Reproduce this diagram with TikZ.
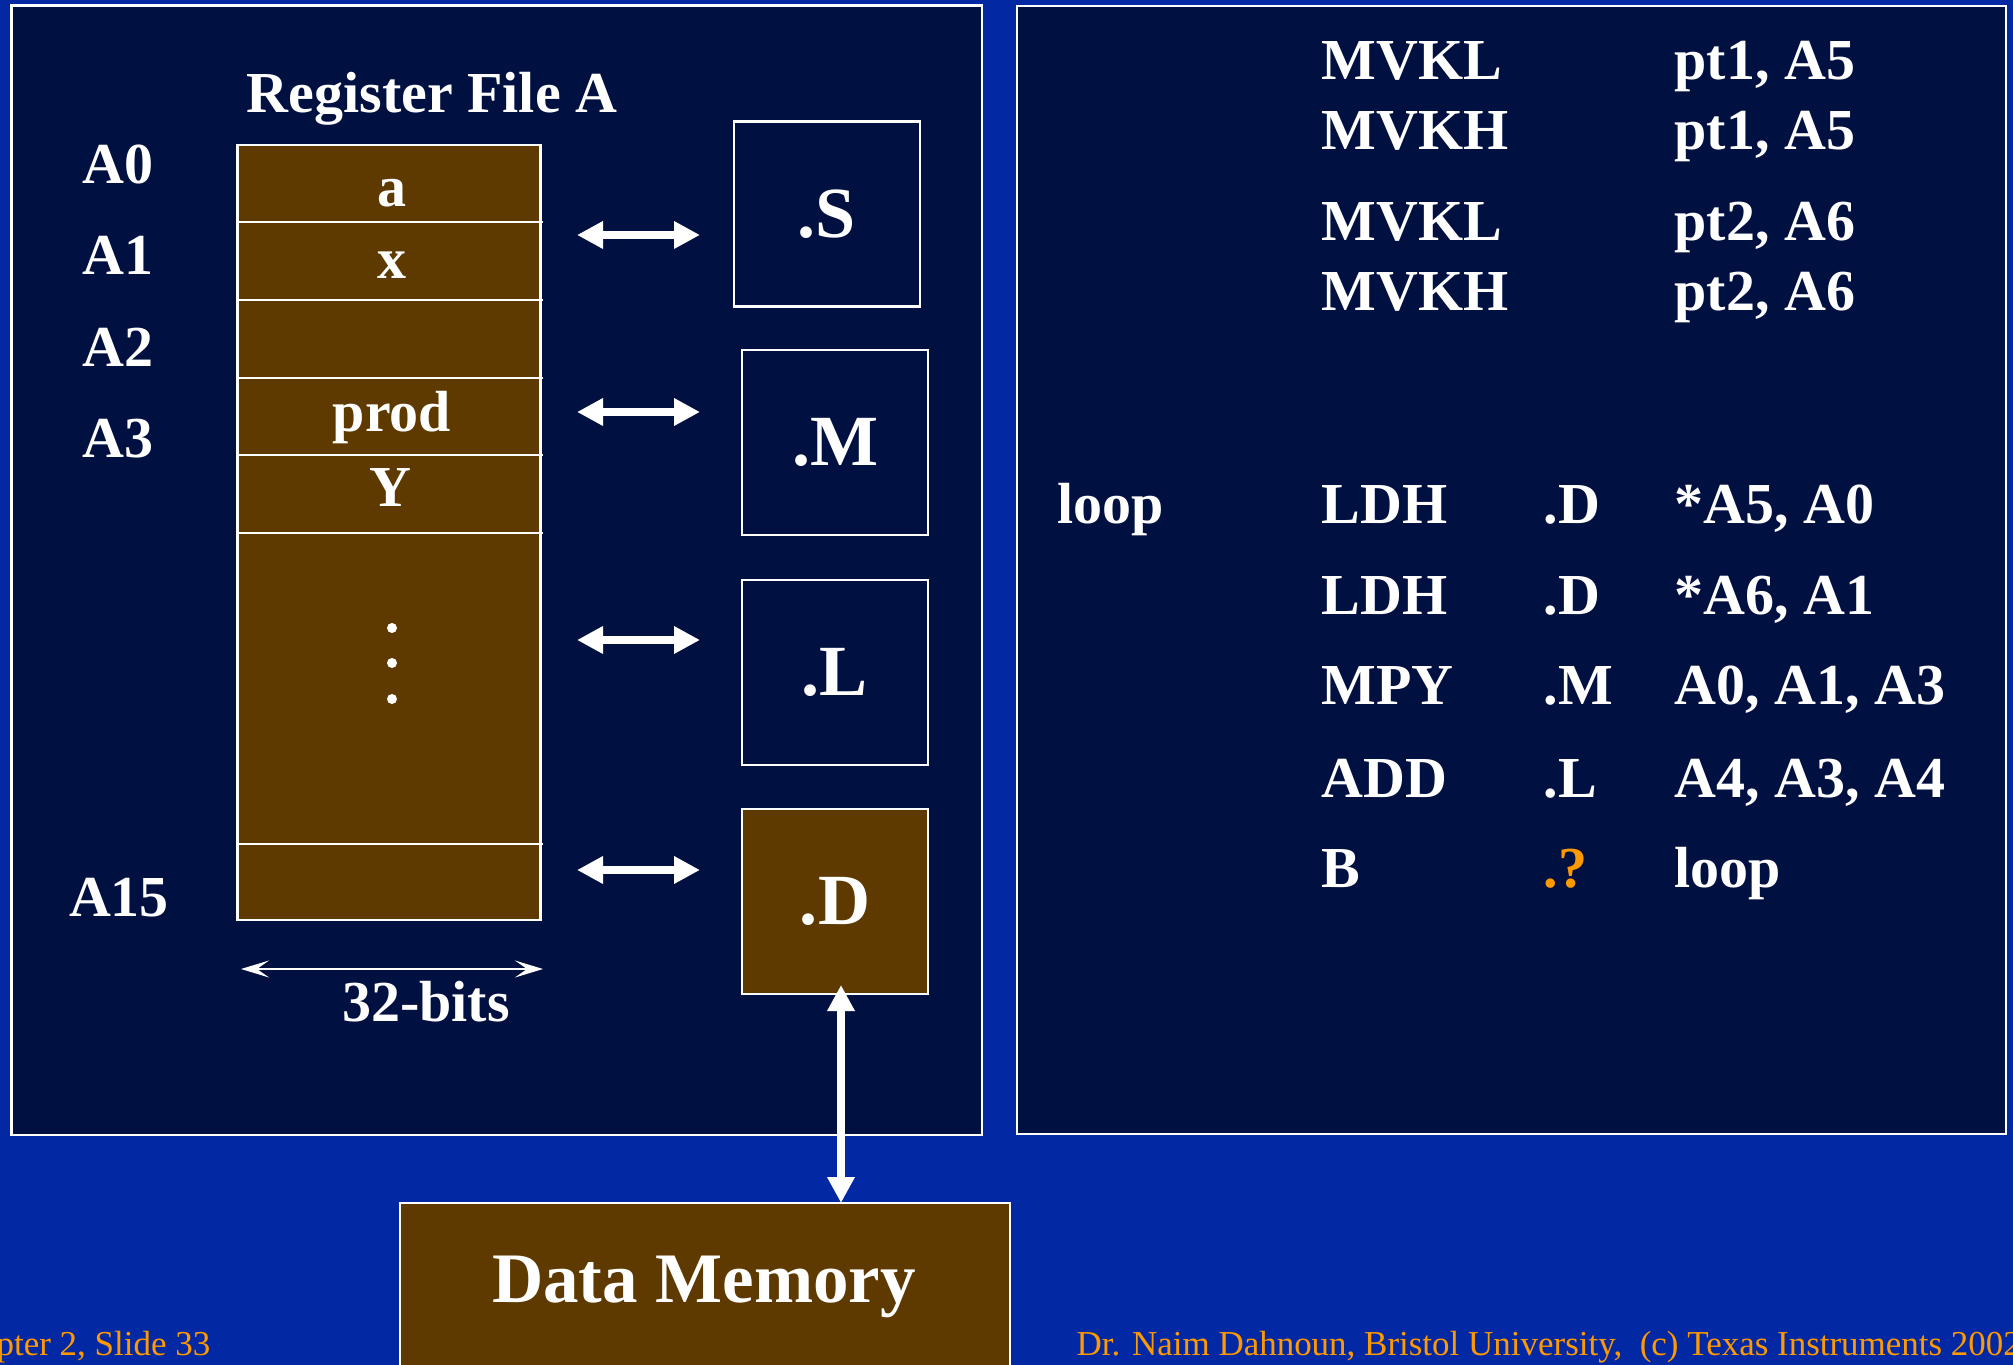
\documentclass[tikz,border=0pt]{standalone}
\usepackage{fontspec}
\setmainfont{Liberation Serif}
\usetikzlibrary{arrows.meta}
\definecolor{bgblue}{RGB}{3,40,163}
\definecolor{navy}{RGB}{0,16,64}
\definecolor{brownfill}{RGB}{94,58,0}
\definecolor{orangetxt}{RGB}{255,153,0}
\newcommand\txtmain{\fontsize{16.5}{18}\selectfont\bfseries}
\newcommand\txtcode{\fontsize{16.5}{19}\selectfont\bfseries}
\newcommand\txtbig{\fontsize{20.5}{23}\selectfont\bfseries}
\newcommand\txtdm{\fontsize{20.2}{23}\selectfont\bfseries}
\newcommand\txtfoot{\fontsize{9.95}{11}\selectfont}
\begin{document}
\begin{tikzpicture}[x=0.1mm,y=-0.1mm,
  panel/.style={draw=white,line width=0.6pt,fill=navy,inner sep=0pt},
  unitbox/.style={draw=white,line width=0.7pt,inner sep=0pt,minimum width=18.6mm,minimum height=18.5mm,text=white,font=\txtbig},
  lbl/.style={text=white,font=\txtmain,inner sep=0pt,anchor=base},
  code/.style={text=white,font=\txtcode,inner sep=0pt,anchor=base west},
  foot/.style={text=orangetxt,font=\txtfoot,inner sep=0pt},
  bigarrow/.style={draw=white,line width=0.8mm,{Triangle[length=2.6mm,width=2.6mm]}-{Triangle[length=2.6mm,width=2.6mm]}},
  thinarrow/.style={draw=white,line width=0.6pt,{Stealth[length=2.8mm,width=1.7mm,inset=1.2mm]}-{Stealth[length=2.8mm,width=1.7mm,inset=1.2mm]}},
  rowline/.style={draw=white,line width=0.7pt}
]
\fill[bgblue] (0,0) rectangle (2013,1365);
\useasboundingbox (0,0) rectangle (2013,1365);

% panels
\node[panel,minimum width=97.05mm,minimum height=112.95mm] (lp) at (496.75,570.25) {};
\node[panel,minimum width=98.9mm,minimum height=112.8mm] (rp) at (1511.5,570) {};

% register file
\node[lbl] (title) at (432,113) {Register File A};
\node[draw=white,line width=0.7pt,fill=brownfill,minimum width=30.3mm,minimum height=77.5mm,inner sep=0pt] (rf) at (389,532.5) {};
\foreach \y in {222,300,378,455,533,844} \draw[rowline] (237.5,\y) -- (543,\y);
\node[lbl] (ra0) at (118,184) {A0};
\node[lbl] (ra1) at (118,275) {A1};
\node[lbl] (ra2) at (118,367) {A2};
\node[lbl] (ra3) at (118,458) {A3};
\node[lbl] (ra15) at (119,916) {A15};
\node[lbl] (va) at (392,207) {a};
\node[lbl] (vx) at (392,279) {x};
\node[lbl] (vprod) at (392,432) {prod};
\node[lbl] (vy) at (390,507) {Y};
\foreach \y in {628,663,699} \fill[white] (392,\y) circle (5);

% width arrow
\coordinate (w1) at (241,969);
\coordinate (w2) at (543,969);
\draw[thinarrow] (w1) -- (w2);
\node[lbl] (bits) at (426,1021) {32-bits};

% functional units
\node[unitbox] (S) at (827,214) {.S};
\node[unitbox] (M) at (835,442.5) {.M};
\node[unitbox] (L) at (835,672.5) {.L};
\node[unitbox,fill=brownfill] (D) at (835,901.5) {.D};

% arrows regfile <-> units
\foreach \n/\y in {s/235,m/412,l/640,d/870}{
  \coordinate (\n a) at (577,\y);
  \coordinate (\n b) at (700,\y);
  \draw[bigarrow] (\n a) -- (\n b);
}

% data memory
\node[draw=white,line width=0.7pt,fill=brownfill,minimum width=61mm,minimum height=19.7mm,inner sep=0pt] (dm) at (705,1301.5) {};
\node[text=white,font=\txtdm,anchor=base,inner sep=0pt] (dmt) at (704,1302) {Data Memory};
\coordinate (dtip) at (841,985);
\coordinate (mtip) at (841,1203);
\draw[bigarrow] (dtip) -- (mtip);

% code
\node[code] (c1a) at (1321,80) {MVKL};
\node[code] (c1b) at (1674,80) {pt1, A5};
\node[code] (c2a) at (1321,150) {MVKH};
\node[code] (c2b) at (1674,150) {pt1, A5};
\node[code] (c3a) at (1321,241) {MVKL};
\node[code] (c3b) at (1674,241) {pt2, A6};
\node[code] (c4a) at (1321,311) {MVKH};
\node[code] (c4b) at (1674,311) {pt2, A6};
\node[code] (lp1) at (1057,524) {loop};
\node[code] (c5a) at (1321,524) {LDH};
\node[code] (c5b) at (1543,524) {.D};
\node[code] (c5c) at (1674,524) {*A5, A0};
\node[code] (c6a) at (1321,615) {LDH};
\node[code] (c6b) at (1543,615) {.D};
\node[code] (c6c) at (1674,615) {*A6, A1};
\node[code] (c7a) at (1321,705) {MPY};
\node[code] (c7b) at (1543,705) {.M};
\node[code] (c7c) at (1674,705) {A0, A1, A3};
\node[code] (c8a) at (1321,797) {ADD};
\node[code] (c8b) at (1543,797) {.L};
\node[code] (c8c) at (1674,797) {A4, A3, A4};
\node[code] (c9a) at (1321,888) {B};
\node[code,text=orangetxt] (c9b) at (1543,888) {.?};
\node[code] (c9c) at (1674,888) {loop};

% footers
\node[foot,anchor=base east] (f1) at (211,1355) {Chapter 2, Slide 33};
\node[foot,anchor=base west] (f2) at (1076,1355) {Dr. Naim Dahnoun, Bristol University,~~(c) Texas Instruments 2002};
\end{tikzpicture}
\end{document}
